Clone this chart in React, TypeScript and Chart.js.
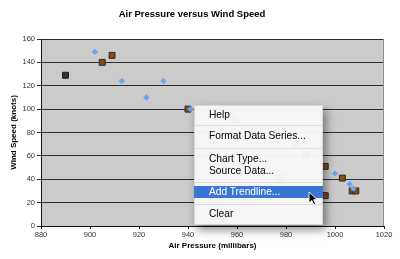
import React, { useEffect, useRef } from "react";
import { Chart, registerables } from "chart.js";

Chart.register(...registerables);

const chartTitle = "Air Pressure versus Wind Speed";
const xTitle = "Air Pressure (millibars)";
const yTitle = "Wind Speed (knots)";

const xMin = 880;
const xMax = 1020;
const xStep = 20;
const yMin = 0;
const yMax = 160;
const yStep = 20;

// Series 1: blue diamonds
const blueX = [902, 913, 923, 930, 941, 1000, 1006, 1007.5];
const blueY = [149, 124, 110, 124, 100, 45, 36, 32];

// Series 2: brown squares
const brownX = [905, 909, 940, 959, 984, 988, 978, 996, 1003, 996, 1007, 1008.5];
const brownY = [140, 146, 100, 91, 71, 61, 41, 51, 41, 26, 30, 30];

// Series 3: dark square
const darkX = [890];
const darkY = [129];

const menuItems = [
  { label: "Help", center: 10, highlighted: false },
  { label: "Format Data Series...", center: 31.7, highlighted: false },
  { label: "Chart Type...", center: 54, highlighted: false },
  { label: "Source Data...", center: 66, highlighted: false },
  { label: "Add Trendline...", center: 87.5, highlighted: true },
  { label: "Clear", center: 109, highlighted: false },
];
const menuSeparators = [20, 42.5, 76.5, 98.5];

const toPoints = (xs: number[], ys: number[]) => xs.map((x, i) => ({ x, y: ys[i] }));

const plotBg = {
  id: "plotBg",
  beforeDraw(chart: any) {
    const { ctx, chartArea } = chart;
    if (!chartArea) return;
    ctx.save();
    ctx.fillStyle = "#cbcbcb";
    ctx.fillRect(chartArea.left, chartArea.top, chartArea.right - chartArea.left, chartArea.bottom - chartArea.top);
    ctx.restore();
  },
  beforeDatasetsDraw(chart: any) {
    const { ctx, chartArea } = chart;
    ctx.save();
    ctx.strokeStyle = "#8c8c8c";
    ctx.lineWidth = 1;
    ctx.beginPath();
    const r = Math.round(chartArea.right) - 0.5;
    ctx.moveTo(r, chartArea.top);
    ctx.lineTo(r, chartArea.bottom);
    ctx.stroke();
    ctx.restore();
  },
};

export default function App() {
  const canvasRef = useRef<HTMLCanvasElement | null>(null);

  useEffect(() => {
    const canvas = canvasRef.current;
    if (!canvas) return;
    const chart = new Chart(canvas, {
      type: "scatter",
      data: {
        datasets: [
          {
            label: "Series 1",
            data: toPoints(blueX, blueY),
            pointStyle: "rectRot",
            pointRadius: 3.2,
            backgroundColor: "#68a4f4",
            borderColor: "#68a4f4",
            borderWidth: 0,
          },
          {
            label: "Series 2",
            data: toPoints(brownX, brownY),
            pointStyle: "rect",
            pointRadius: 4.2,
            backgroundColor: "#8a4a12",
            borderColor: "#2c2c2c",
            borderWidth: 1,
          },
          {
            label: "Series 3",
            data: toPoints(darkX, darkY),
            pointStyle: "rect",
            pointRadius: 4.2,
            backgroundColor: "#333333",
            borderColor: "#1a1a1a",
            borderWidth: 1,
          },
        ],
      },
      options: {
        responsive: false,
        animation: false,
        devicePixelRatio: 1,
        layout: { padding: { left: 0, right: 16, top: 0, bottom: 0 } },
        plugins: {
          legend: { display: false },
          tooltip: { enabled: false },
          title: {
            display: true,
            text: chartTitle,
            color: "#000",
            font: { family: "Liberation Sans", size: 9.5, weight: "bold" },
            padding: { top: 9, bottom: 18.6 },
          },
        },
        scales: {
          x: {
            type: "linear",
            min: xMin,
            max: xMax,
            afterFit: (s: any) => {
              s.height = 33;
            },
            ticks: {
              stepSize: xStep,
              color: "#333",
              font: { family: "Liberation Sans", size: 7.5 },
              padding: 1,
              maxRotation: 0,
              callback: (v: any) => String(v),
            },
            grid: { drawOnChartArea: false, drawTicks: true, tickLength: 3, color: "#222" },
            border: { display: true, color: "#111", width: 1 },
            title: {
              display: true,
              text: xTitle,
              color: "#000",
              font: { family: "Liberation Sans", size: 8, weight: "bold" },
              padding: { top: 0, bottom: 8 },
            },
          },
          y: {
            type: "linear",
            min: yMin,
            max: yMax,
            afterFit: (s: any) => {
              s.width = 41;
            },
            ticks: {
              stepSize: yStep,
              color: "#333",
              font: { family: "Liberation Sans", size: 7.5 },
              padding: 2,
              callback: (v: any) => String(v),
            },
            grid: { drawOnChartArea: true, drawTicks: true, tickLength: 4, color: "#2e2e2e", lineWidth: 1 },
            border: { display: true, color: "#111", width: 1 },
            title: {
              display: true,
              text: yTitle,
              color: "#000",
              font: { family: "Liberation Sans", size: 8, weight: "bold" },
              padding: { top: 9, bottom: 0 },
            },
          },
        },
      },
      plugins: [plotBg],
    });
    return () => chart.destroy();
  }, []);

  return (
    <div style={{ position: "fixed", left: 0, top: 0, width: 400, height: 259, background: "#fff", overflow: "hidden" }}>
      <canvas ref={canvasRef} width={400} height={259} style={{ display: "block", width: 400, height: 259 }} />
      <div
        style={{
          position: "absolute",
          left: 194,
          top: 105,
          width: 129,
          height: 120,
          background: "rgba(246,246,246,0.97)",
          boxShadow: "3px 5px 9px rgba(0,0,0,0.45)",
          border: "1px solid rgba(0,0,0,0.12)",
          boxSizing: "border-box",
          fontFamily: "'Liberation Sans', Arial, sans-serif",
          fontSize: "10.2px",
          color: "#000",
        }}
      >
        {menuSeparators.map((t, i) => (
          <div
            key={"s" + i}
            style={{ position: "absolute", left: 0, right: 0, top: t - 1, height: 1, background: "#dcdcdc" }}
          />
        ))}
        {menuItems.map((it, i) => (
          <div
            key={i}
            style={{
              position: "absolute",
              left: -1,
              right: -1,
              top: it.center - 6.5 - 1,
              height: 12,
              lineHeight: "12px",
              paddingLeft: 15,
              background: it.highlighted ? "#3a76d6" : "transparent",
              color: it.highlighted ? "#fff" : "#000",
              whiteSpace: "nowrap",
            }}
          >
            {it.label}
          </div>
        ))}
      </div>
      <svg
        width={14}
        height={16}
        style={{ position: "absolute", left: 308, top: 191 }}
        viewBox="0 0 14 16"
      >
        <polygon
          points="1,1 1,12 3.8,9.4 5.8,13.8 7.6,13 5.7,8.7 9.2,8.7"
          fill="#000"
          stroke="#fff"
          strokeWidth="0.9"
        />
      </svg>
    </div>
  );
}
